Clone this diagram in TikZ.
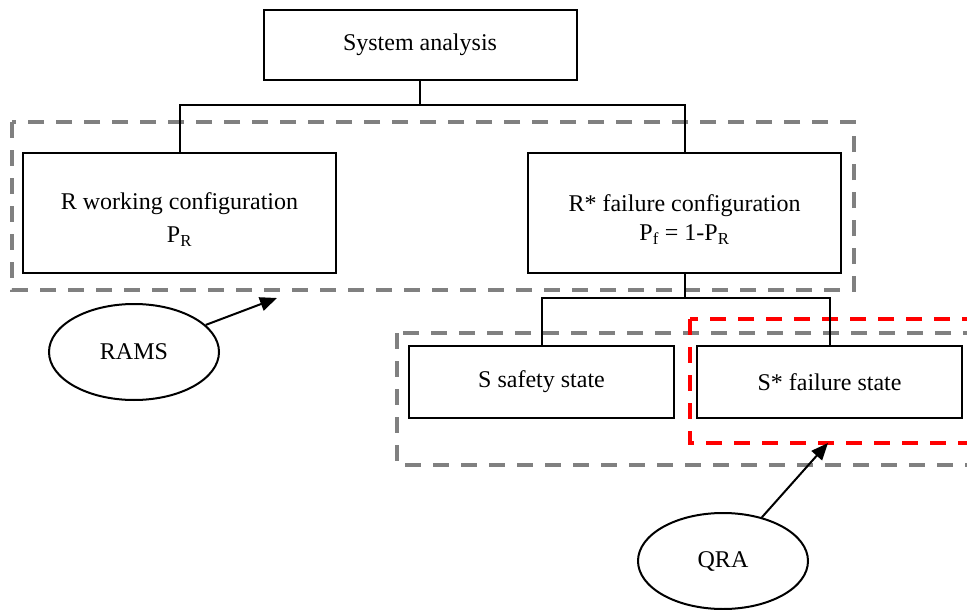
\documentclass[tikz,border=0pt]{standalone}
\usepackage{fontspec}
\setmainfont{Liberation Serif}
\usetikzlibrary{arrows.meta,shapes.geometric}
\definecolor{grpgray}{HTML}{808080}
\definecolor{grpred}{HTML}{FF0000}
\newcommand{\toppad}{\rule{0pt}{30pt}}
\begin{document}
\begin{tikzpicture}[x=1pt,y=-1pt,
  txt/.style={font=\fontsize{24}{30}\selectfont},
  box/.style={txt, draw, line width=2pt, rectangle, inner sep=0pt, align=center,
    minimum width=313pt},
  bigbox/.style={box, minimum height=120pt},
  smallbox/.style={box, minimum height=72pt, minimum width=265pt},
  oval/.style={txt, draw, line width=2pt, ellipse, inner sep=0pt,
    minimum width=170pt, minimum height=96pt},
  link/.style={line width=2pt},
  arr/.style={line width=2pt, -{Triangle[length=17pt,width=14pt]}},
  grp/.style={draw=grpgray, line width=3.6pt, dash pattern=on 16pt off 12pt},
  grpr/.style={draw=grpred, line width=3.6pt, dash pattern=on 16pt off 12pt}
]
\clip (0,0) rectangle (967,610);

% group outlines
\draw[grp] (12,122) rectangle (854,290);
\draw[grp] (397,333) rectangle (990,465);
\draw[grpr] (690,319) rectangle (990,443);

% boxes
\node[box, minimum height=70pt] (sys) at (420,45) {System analysis};
\node[bigbox] (rw) at (179.5,213) {\toppad R working configuration\\[3pt]P\textsubscript{R}};
\node[bigbox] (rf) at (684.5,213) {\toppad R* failure configuration\\[-1pt]P\textsubscript{f} = 1-P\textsubscript{R}};
\node[smallbox] (ss) at (541.5,382) {S safety state};
\node[smallbox] (sf) at (829.5,382) {S* failure state};

% tree connectors
\coordinate (j1) at (420,105);
\coordinate (j2) at (684.5,298);
\draw[link] (sys.south) -- (j1);
\draw[link] (j1) -| (rw.north);
\draw[link] (j1) -| (rf.north);
\draw[link] (rf.south) -- (j2);
\draw[link] (j2) -| (ss.north);
\draw[link] (j2) -| (sf.north);

% method labels
\node[oval] (rams) at (134,352) {RAMS};
\node[oval] (qra) at (723,561) {QRA};
\coordinate (ramsTip) at (277,298);
\coordinate (qraTip) at (828,443);
\draw[arr] (rams) -- (ramsTip);
\draw[arr] (qra) -- (qraTip);
\end{tikzpicture}
\end{document}
